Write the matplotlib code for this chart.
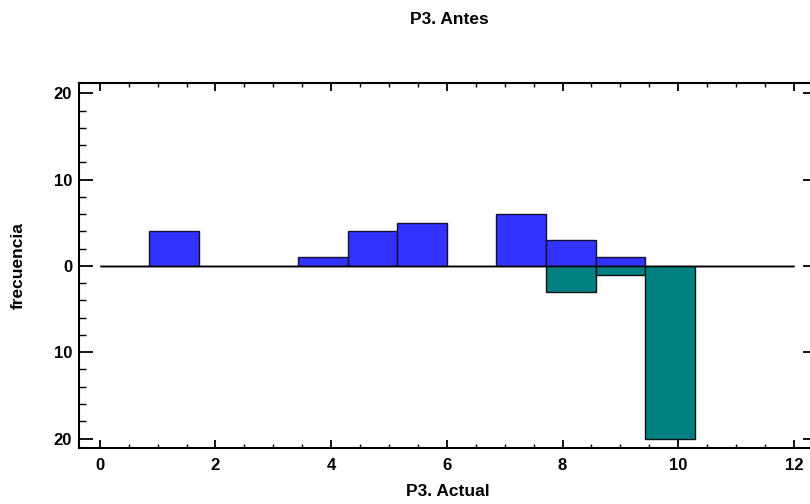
import matplotlib
matplotlib.use('Agg')
import matplotlib.pyplot as plt
import numpy as np
from matplotlib.ticker import MultipleLocator, FuncFormatter

# bin edges (14 classes from 0 to 12) and frequencies
binEdges = np.linspace(0, 12, 15)
antes = [0, 4, 0, 0, 1, 4, 5, 0, 6, 3, 1, 0, 0, 0]
actual = [0, 0, 0, 0, 0, 0, 0, 0, 0, 3, 1, 20, 0, 0]

titleText = 'P3. Antes'
xLabelText = 'P3. Actual'
yLabelText = 'frecuencia'

plt.rcParams['font.family'] = ['Liberation Sans', 'DejaVu Sans']
plt.rcParams['font.weight'] = 'bold'

fig = plt.figure(figsize=(8.1, 5.04), dpi=100)
ax = fig.add_axes([79 / 810, 1 - 448 / 504, (817 - 79) / 810, (448 - 83) / 504])

width = binEdges[1] - binEdges[0]
lefts = binEdges[:-1]
ax.bar(lefts, antes, width=width, align='edge', color='#3333ff',
       edgecolor='#111133', linewidth=1.0, zorder=2)
ax.bar(lefts, -np.array(actual), width=width, align='edge', color='#008080',
       edgecolor='#111111', linewidth=1.0, zorder=2)
ax.hlines(0, binEdges[0], binEdges[-1], color='black', linewidth=1.0, zorder=3)

ax.set_xlim(-0.36, 12.4)
ax.set_ylim(-21.1, 21.2)

ax.xaxis.set_major_locator(MultipleLocator(2))
ax.xaxis.set_minor_locator(MultipleLocator(0.5))
ax.yaxis.set_major_locator(MultipleLocator(10))
ax.yaxis.set_minor_locator(MultipleLocator(2))
ax.yaxis.set_major_formatter(FuncFormatter(lambda v, p: '%d' % abs(round(v))))

ax.tick_params(axis='x', which='major', direction='in', length=6, width=1.3,
               top=True, labelsize=12, pad=7)
ax.tick_params(axis='x', which='minor', direction='in', length=3, width=1.0, top=True)
ax.tick_params(axis='y', which='major', direction='in', length=10, width=1.3,
               right=True, labelsize=12, pad=5)
ax.tick_params(axis='y', which='minor', direction='in', length=5, width=1.0, right=True)
for spine in ax.spines.values():
    spine.set_linewidth(1.5)

ax.set_xlabel(xLabelText, fontsize=12.5, fontweight='bold', va='center')
ax.xaxis.set_label_coords(0.5, (448 - 491) / 365)
ax.set_ylabel(yLabelText, fontsize=12.5, fontweight='bold', va='center')
ax.yaxis.set_label_coords((18 - 79) / 738, 0.5)
fig.text(449 / 810, 1 - 20 / 504, titleText, ha='center', va='center',
         fontsize=12.5, fontweight='bold')

fig.savefig('out.png', dpi=100)
